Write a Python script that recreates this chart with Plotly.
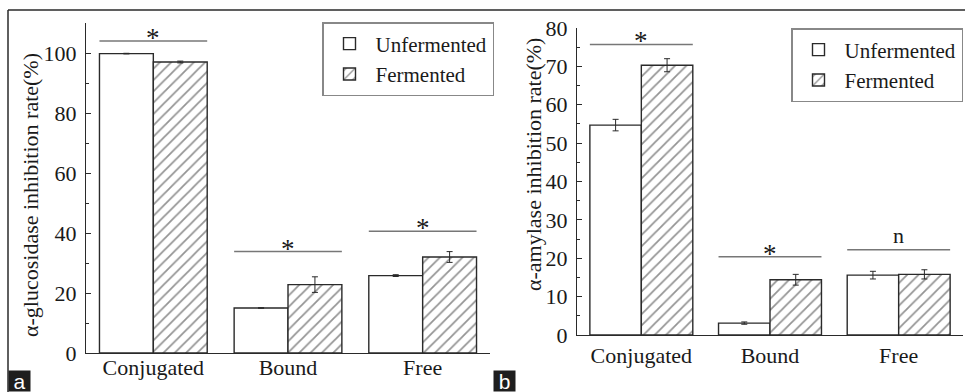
import plotly.graph_objects as go

categories = ["Conjugated", "Bound", "Free"]

# Panel a: alpha-glucosidase inhibition rate (%)
gluc_unfermented = [99.8, 15.0, 25.8]
gluc_unfermented_err = [0.1, 0.1, 0.3]
gluc_fermented = [97.0, 22.8, 32.0]
gluc_fermented_err = [0.3, 2.6, 1.8]
gluc_sig_level = [104.0, 33.8, 40.6]
gluc_sig_mark = ["*", "*", "*"]

# Panel b: alpha-amylase inhibition rate (%)
amy_unfermented = [54.7, 3.1, 15.6]
amy_unfermented_err = [1.5, 0.3, 1.0]
amy_fermented = [70.3, 14.4, 15.8]
amy_fermented_err = [1.7, 1.4, 1.2]
amy_sig_level = [75.7, 20.4, 22.2]
amy_sig_mark = ["*", "*", "n"]

W, H = 965, 392
FONT = "Liberation Serif, Times New Roman, serif"
INK = "#1a1a1a"
EDGE = "#2a2a2a"
GROUP_HALF = 0.4  # half of bar-group width (bargap 0.2)


def px_x(v):
    return v / W


def px_y(v):
    return (H - v) / H


fig = go.Figure()

bar_line = dict(color=EDGE, width=1.4)
err_style = dict(type="data", color=EDGE, thickness=1, width=3)
hatch = dict(shape="/", fgcolor="#2a2a2a", bgcolor="white", size=8, solidity=0.22)

panels = [
    ("x", "y", "legend", gluc_unfermented, gluc_unfermented_err, gluc_fermented, gluc_fermented_err),
    ("x2", "y2", "legend2", amy_unfermented, amy_unfermented_err, amy_fermented, amy_fermented_err),
]
for xa, ya, lg, unf, unf_e, fer, fer_e in panels:
    fig.add_trace(go.Bar(
        x=categories, y=unf, name="Unfermented", xaxis=xa, yaxis=ya, legend=lg,
        marker=dict(color="white", line=bar_line),
        error_y=dict(array=unf_e, **err_style),
    ))
    fig.add_trace(go.Bar(
        x=categories, y=fer, name="Fermented", xaxis=xa, yaxis=ya, legend=lg,
        marker=dict(color="white", line=bar_line, pattern=hatch),
        error_y=dict(array=fer_e, **err_style),
    ))

# significance lines and marks
for xa, ya, levels, marks in [("x", "y", gluc_sig_level, gluc_sig_mark),
                              ("x2", "y2", amy_sig_level, amy_sig_mark)]:
    for i, (lv, mk) in enumerate(zip(levels, marks)):
        fig.add_shape(type="line", xref=xa, yref=ya,
                      x0=i - GROUP_HALF, x1=i + GROUP_HALF, y0=lv, y1=lv,
                      line=dict(color="#777777", width=1.5))
        fig.add_annotation(xref=xa, yref=ya, x=i, y=lv, text=mk,
                           showarrow=False, yanchor="bottom",
                           yshift=-14 if mk == "*" else 0,
                           font=dict(family=FONT, size=27 if mk == "*" else 22,
                                     color=INK))

axis_common = dict(showline=True, linecolor=EDGE, linewidth=1.4,
                   showgrid=False, zeroline=False,
                   tickfont=dict(family=FONT, size=22, color=INK))

legend_common = dict(xanchor="right", yanchor="top",
                     bordercolor="#888888", borderwidth=1.5, bgcolor="white",
                     font=dict(family=FONT, size=21, color=INK),
                     itemwidth=42, tracegroupgap=0)

fig.update_layout(
    width=W, height=H,
    margin=dict(l=0, r=0, t=0, b=0, autoexpand=False),
    paper_bgcolor="white", plot_bgcolor="white",
    barmode="group", bargap=0.2, bargroupgap=0,
    font=dict(family=FONT, color=INK),
    xaxis=dict(domain=[px_x(86), px_x(490)], anchor="y", range=[-0.5, 2.5],
               ticks="", ticklabelstandoff=-6, **axis_common),
    yaxis=dict(domain=[px_y(353), px_y(23)], anchor="x", range=[0, 110],
               tickvals=[0, 20, 40, 60, 80, 100],
               ticks="inside", ticklen=5, tickcolor=EDGE, tickwidth=1.3,
               minor=dict(tickvals=[10, 30, 50, 70, 90, 110], ticks="inside",
                          ticklen=3, tickcolor=EDGE),
               ticklabelstandoff=4, **axis_common),
    xaxis2=dict(domain=[px_x(577), px_x(963)], anchor="y2", range=[-0.5, 2.5],
                ticks="", ticklabelstandoff=0, **axis_common),
    yaxis2=dict(domain=[px_y(335), px_y(28)], anchor="x2", range=[0, 80],
                dtick=10, ticks="inside", ticklen=5, tickcolor=EDGE, tickwidth=1.3,
                minor=dict(dtick=5, ticks="inside", ticklen=3, tickcolor=EDGE),
                ticklabelstandoff=4, **axis_common),
    legend=dict(x=px_x(494), y=px_y(22), **legend_common),
    legend2=dict(x=px_x(963), y=px_y(28), **legend_common),
    showlegend=True,
)

# axis titles
fig.add_annotation(xref="paper", yref="paper", x=px_x(30), y=px_y(195),
                   text="α-glucosidase inhibition rate(%)", textangle=-90,
                   showarrow=False, xanchor="center", yanchor="middle",
                   font=dict(family=FONT, size=22, color=INK))
fig.add_annotation(xref="paper", yref="paper", x=px_x(533), y=px_y(165),
                   text="α-amylase inhibition rate(%)", textangle=-90,
                   showarrow=False, xanchor="center", yanchor="middle",
                   font=dict(family=FONT, size=22, color=INK))

# outer frame lines
fig.add_shape(type="line", xref="paper", yref="paper",
              x0=px_x(8), x1=1, y0=px_y(10), y1=px_y(10),
              line=dict(color=EDGE, width=1.5))
fig.add_shape(type="line", xref="paper", yref="paper",
              x0=px_x(8), x1=px_x(8), y0=px_y(10), y1=0,
              line=dict(color=EDGE, width=1.5))

# panel labels
for lbl, xl in [("a", 8), ("b", 493)]:
    fig.add_annotation(xref="paper", yref="paper", x=px_x(xl), y=0,
                       xanchor="left", yanchor="bottom", text=lbl,
                       showarrow=False, bgcolor="#1e1e1e",
                       borderpad=1, width=19, height=18,
                       font=dict(family="Liberation Sans, Arial, sans-serif",
                                 size=21, color="white"))

fig.write_html("out.html")
